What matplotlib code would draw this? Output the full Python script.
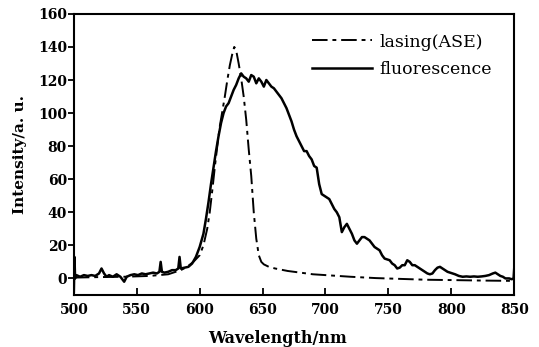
import matplotlib
matplotlib.use("Agg")
import matplotlib.pyplot as plt

# fluorescence spectrum
fl_wl = [500, 500.5, 501, 502, 505, 508, 511, 514, 517, 520, 522, 524, 526, 528,
         531, 534, 537, 540, 542, 545, 548, 551, 554, 557, 560, 563, 566, 568,
         569, 570, 572, 575, 578, 581, 583, 584, 585, 588, 591, 594, 597, 600,
         603, 605, 607, 609, 611, 613, 615, 617, 619, 621, 623, 625, 627, 629,
         631, 633, 635, 637, 639, 641, 643, 645, 647, 649, 651, 653, 655, 657,
         659, 661, 663, 665, 667, 669, 671, 673, 675, 677, 679, 681, 683, 685,
         687, 689, 691, 693, 695, 697, 699, 701, 703, 705, 707, 709, 711, 713,
         715, 717, 719, 721, 723, 725, 727, 729, 731, 733, 735, 737, 739, 741,
         743, 745, 747, 749, 751, 753, 755, 757, 759, 761, 763, 765, 767, 769,
         771, 773, 775, 777, 779, 781, 783, 785, 787, 789, 791, 793, 795, 797,
         799, 801, 803, 806, 809, 812, 815, 818, 821, 824, 827, 830, 833, 835,
         837, 839, 841, 843, 846, 848, 849.5, 850]
fl_val = [-8, 13, 0, 2, 1, 2, 1.5, 2, 1.5, 3, 6, 3, 1, 2,
          1, 2.5, 1, -2, 1, 2, 2.5, 2, 3, 2.5, 3, 3.5, 3, 4,
          10, 4, 3.5, 4, 5, 5, 6, 13, 6, 6.5, 7, 9, 13, 19,
          27, 36, 46, 57, 67, 77, 86, 94, 100, 104, 106, 110, 114, 117,
          121, 124, 122, 121, 119, 123, 122, 118, 121, 119, 116, 120, 118, 116,
          115, 113, 111, 109, 106, 103, 99, 95, 90, 86, 83, 80, 77, 77,
          74, 72, 68, 67, 57, 51, 50, 49, 48, 45, 42, 40, 37, 28,
          31, 33, 30, 27, 23, 21, 23, 25, 25, 24, 23, 21, 19, 18,
          17, 14, 12, 11.5, 11, 9, 8, 6, 6.5, 8, 8, 11, 10, 8,
          8, 7, 6, 5, 4, 3, 2.5, 3, 5, 6.5, 7, 6, 5, 4,
          3.5, 3, 2.5, 1.5, 1, 1.2, 1, 1.2, 1, 1.2, 1.5, 2, 3, 3.5,
          2.5, 1.5, 1, 0, 0, -0.5, 0, 6]

# lasing (ASE) spectrum
ase_wl = [500, 520, 540, 560, 575, 585, 590, 595, 600, 603, 606, 608, 610, 612,
          614, 616, 618, 620, 622, 624, 626, 627.5, 629, 631, 633, 635, 637,
          639, 641, 643, 645, 647, 649, 651, 655, 660, 670, 680, 690, 700, 720,
          740, 760, 780, 800, 825, 850]
ase_val = [0.5, 0.8, 1, 1.5, 2.5, 5, 7, 10, 14, 20, 30, 40, 53, 67,
           80, 92, 101, 110, 120, 129, 136, 140, 138, 130, 121, 110, 96,
           78, 62, 40, 24, 14, 10, 8.5, 7, 6, 4.5, 3.5, 2.5, 2, 1,
           0.2, -0.3, -0.8, -1, -1.3, -1.5]

x_ticks = [500, 550, 600, 650, 700, 750, 800, 850]
y_ticks = [0, 20, 40, 60, 80, 100, 120, 140, 160]

plt.rcParams["font.family"] = "DejaVu Serif"

fig = plt.figure(figsize=(5.39, 3.47), dpi=100)
ax = fig.add_axes([0.137, 0.150, 0.817, 0.810])

ax.plot(ase_wl, ase_val, color="black", lw=1.4, dashes=(8, 2.5, 2, 2.5),
        label="lasing(ASE)")
ax.plot(fl_wl, fl_val, color="black", lw=1.8, label="fluorescence")

ax.set_xlim(500, 850)
ax.set_ylim(-10, 160)
ax.set_xticks(x_ticks)
ax.set_yticks(y_ticks)
for lbl in ax.get_xticklabels() + ax.get_yticklabels():
    lbl.set_fontweight("bold")
    lbl.set_fontsize(10)
ax.tick_params(axis="x", direction="in", length=5, width=1.3, pad=6)
ax.tick_params(axis="y", direction="out", length=4, width=1.3, pad=1)
for sp in ax.spines.values():
    sp.set_linewidth(1.5)

ax.set_xlabel("Wavelength/nm", fontsize=11.5, fontweight="bold")
ax.xaxis.set_label_coords(0.4625, -0.125)
ax.set_ylabel("Intensity/a. u.", fontsize=11, fontweight="bold", labelpad=8)

ax.legend(loc="upper left", frameon=False, fontsize=12.5, handlelength=3.45,
          handletextpad=0.45, labelspacing=0.62, borderpad=0,
          borderaxespad=0, bbox_to_anchor=(0.541, 0.93))

fig.savefig("out.png", dpi=100)
